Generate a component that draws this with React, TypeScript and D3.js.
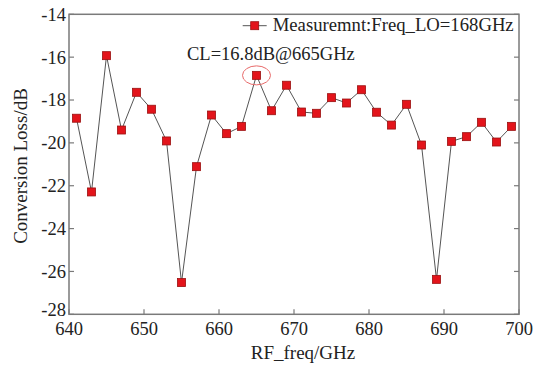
import React from 'react';
import * as d3 from 'd3';

// measured conversion loss, LO = 168 GHz
const freqs = [641, 643, 645, 647, 649, 651, 653, 655, 657, 659, 661, 663, 665, 667, 669,
  671, 673, 675, 677, 679, 681, 683, 685, 687, 689, 691, 693, 695, 697, 699];
const lossDb = [-18.85, -22.29, -15.93, -19.4, -17.64, -18.43, -19.91, -26.52, -21.11, -18.7,
  -19.57, -19.23, -16.85, -18.5, -17.31, -18.56, -18.62, -17.89, -18.14, -17.52, -18.57,
  -19.17, -18.2, -20.1, -26.37, -19.93, -19.71, -19.04, -19.96, -19.23];
const xTicks = [640, 650, 660, 670, 680, 690, 700];
const yTicks = [-28, -26, -24, -22, -20, -18, -16, -14];
const legendLabel = 'Measuremnt:Freq_LO=168GHz';
const peakNote = 'CL=16.8dB@665GHz';
const peakFreq = 665;

const W = 538;
const H = 365;
const margin = { top: 14.3, right: 19, bottom: 50.7, left: 69 };
const font = '"Liberation Serif", "Times New Roman", serif';

export default function App() {
  const innerW = W - margin.left - margin.right;
  const innerH = H - margin.top - margin.bottom;

  const x = d3.scaleLinear().domain([640, 700]).range([0, innerW]);
  const y = d3.scaleLinear().domain([-28, -14]).range([innerH, 0]);

  const line = d3.line<number>()
    .x((_, i) => x(freqs[i]))
    .y(d => y(d));

  const peakIdx = freqs.indexOf(peakFreq);
  const axisColor = '#7a7a7a';
  const ms = 8;

  return (
    <svg width={W} height={H} style={{ position: 'absolute', left: 0, top: 0, background: '#fff' }}>
      <g transform={`translate(${margin.left},${margin.top})`} fontFamily={font}>
        {/* frame */}
        <rect x={0} y={0} width={innerW} height={innerH} fill="none" stroke={axisColor} strokeWidth={1.5} />

        {/* x ticks */}
        {xTicks.map(t => (
          <g key={'x' + t}>
            <line x1={x(t)} x2={x(t)} y1={innerH} y2={innerH - 5} stroke={axisColor} strokeWidth={1.2} />
            <text x={x(t)} y={innerH + 21} textAnchor="middle" fontSize={18.5} fill="#222">{t}</text>
          </g>
        ))}

        {/* y ticks, left and right */}
        {yTicks.map(t => (
          <g key={'y' + t}>
            <line x1={0} x2={5} y1={y(t)} y2={y(t)} stroke={axisColor} strokeWidth={1.2} />
            <line x1={innerW} x2={innerW - 5} y1={y(t)} y2={y(t)} stroke={axisColor} strokeWidth={1.2} />
            <text x={-3} y={y(t) - (t === -28 ? 5 : 0)} dy="0.35em" textAnchor="end" fontSize={18.5} fill="#222">{t}</text>
          </g>
        ))}

        {/* axis titles */}
        <text x={innerW / 2 + 9} y={innerH + 45} textAnchor="middle" fontSize={19} fill="#222">RF_freq/GHz</text>
        <text transform={`translate(${27 - margin.left},${166 - margin.top}) rotate(-90)`}
          textAnchor="middle" fontSize={19} fill="#222">Conversion Loss/dB</text>

        {/* data */}
        <path d={line(lossDb) || ''} fill="none" stroke="#555" strokeWidth={1} />
        {lossDb.map((v, i) => (
          <rect key={'m' + i} x={x(freqs[i]) - ms / 2} y={y(v) - ms / 2} width={ms} height={ms}
            fill="#e3141b" stroke="#9a1010" strokeWidth={0.8} />
        ))}

        {/* peak annotation */}
        <ellipse cx={x(freqs[peakIdx])} cy={y(lossDb[peakIdx])} rx={14} ry={9.5}
          fill="none" stroke="#e86a6a" strokeWidth={1} />
        <text x={187 - margin.left} y={60.5 - margin.top} fontSize={18.5} fill="#222">{peakNote}</text>

        {/* legend */}
        <g transform={`translate(${242.7 - margin.left},${25.7 - margin.top})`}>
          <line x1={0} x2={24} y1={0} y2={0} stroke="#555" strokeWidth={1} />
          <rect x={12 - 4} y={-4} width={8} height={8} fill="#e3141b" stroke="#9a1010" strokeWidth={0.8} />
          <text x={30} y={5.5} fontSize={18.7} fill="#222">{legendLabel}</text>
        </g>
      </g>
    </svg>
  );
}
